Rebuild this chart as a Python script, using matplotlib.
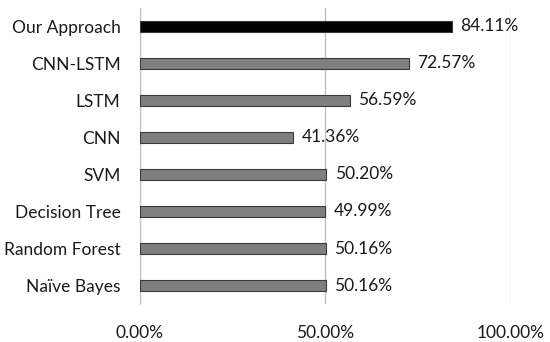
import matplotlib.pyplot as plt

methods = ['Our Approach', 'CNN-LSTM', 'LSTM', 'CNN', 'SVM',
           'Decision Tree', 'Random Forest', 'Naïve Bayes']
accuracy = [84.11, 72.57, 56.59, 41.36, 50.20, 49.99, 50.16, 50.16]
xticks = [0, 50, 100]
xtick_labels = ['0.00%', '50.00%', '100.00%']

plt.rcParams['font.family'] = ['Lato', 'DejaVu Sans']

fig = plt.figure(figsize=(5.5, 3.42), dpi=100)
ax = fig.add_axes([0.2545, 0.111, 0.6745, 0.866])

colors = ['black'] + ['#7f7f7f'] * (len(methods) - 1)
ypos = list(range(len(methods)))
ax.barh(ypos, accuracy, height=0.3, color=colors, edgecolor='#3a3a3a',
        linewidth=0.8, zorder=3)

for y, v in zip(ypos, accuracy):
    ax.annotate(f'{v:.2f}%', (v, y), xytext=(6, 0), textcoords='offset points',
                va='center', ha='left', fontsize=12.5, color='#1a1a1a')

ax.set_ylim(len(methods) - 0.5, -0.5)
ax.set_xlim(0, 100)
ax.set_yticks(ypos)
ax.set_yticklabels(methods, fontsize=12.5, color='#1a1a1a')
ax.set_xticks(xticks)
ax.set_xticklabels(xtick_labels, fontsize=12.5, color='#1a1a1a')
ax.tick_params(length=0)
ax.tick_params(axis='y', pad=14)
ax.tick_params(axis='x', pad=15)

ax.grid(axis='x', color='#bfbfbf', linewidth=1, zorder=0)
for s in ['top', 'right', 'bottom']:
    ax.spines[s].set_visible(False)
ax.spines['left'].set_color('#bfbfbf')
ax.spines['left'].set_zorder(0)

plt.savefig('out.png', dpi=100)
